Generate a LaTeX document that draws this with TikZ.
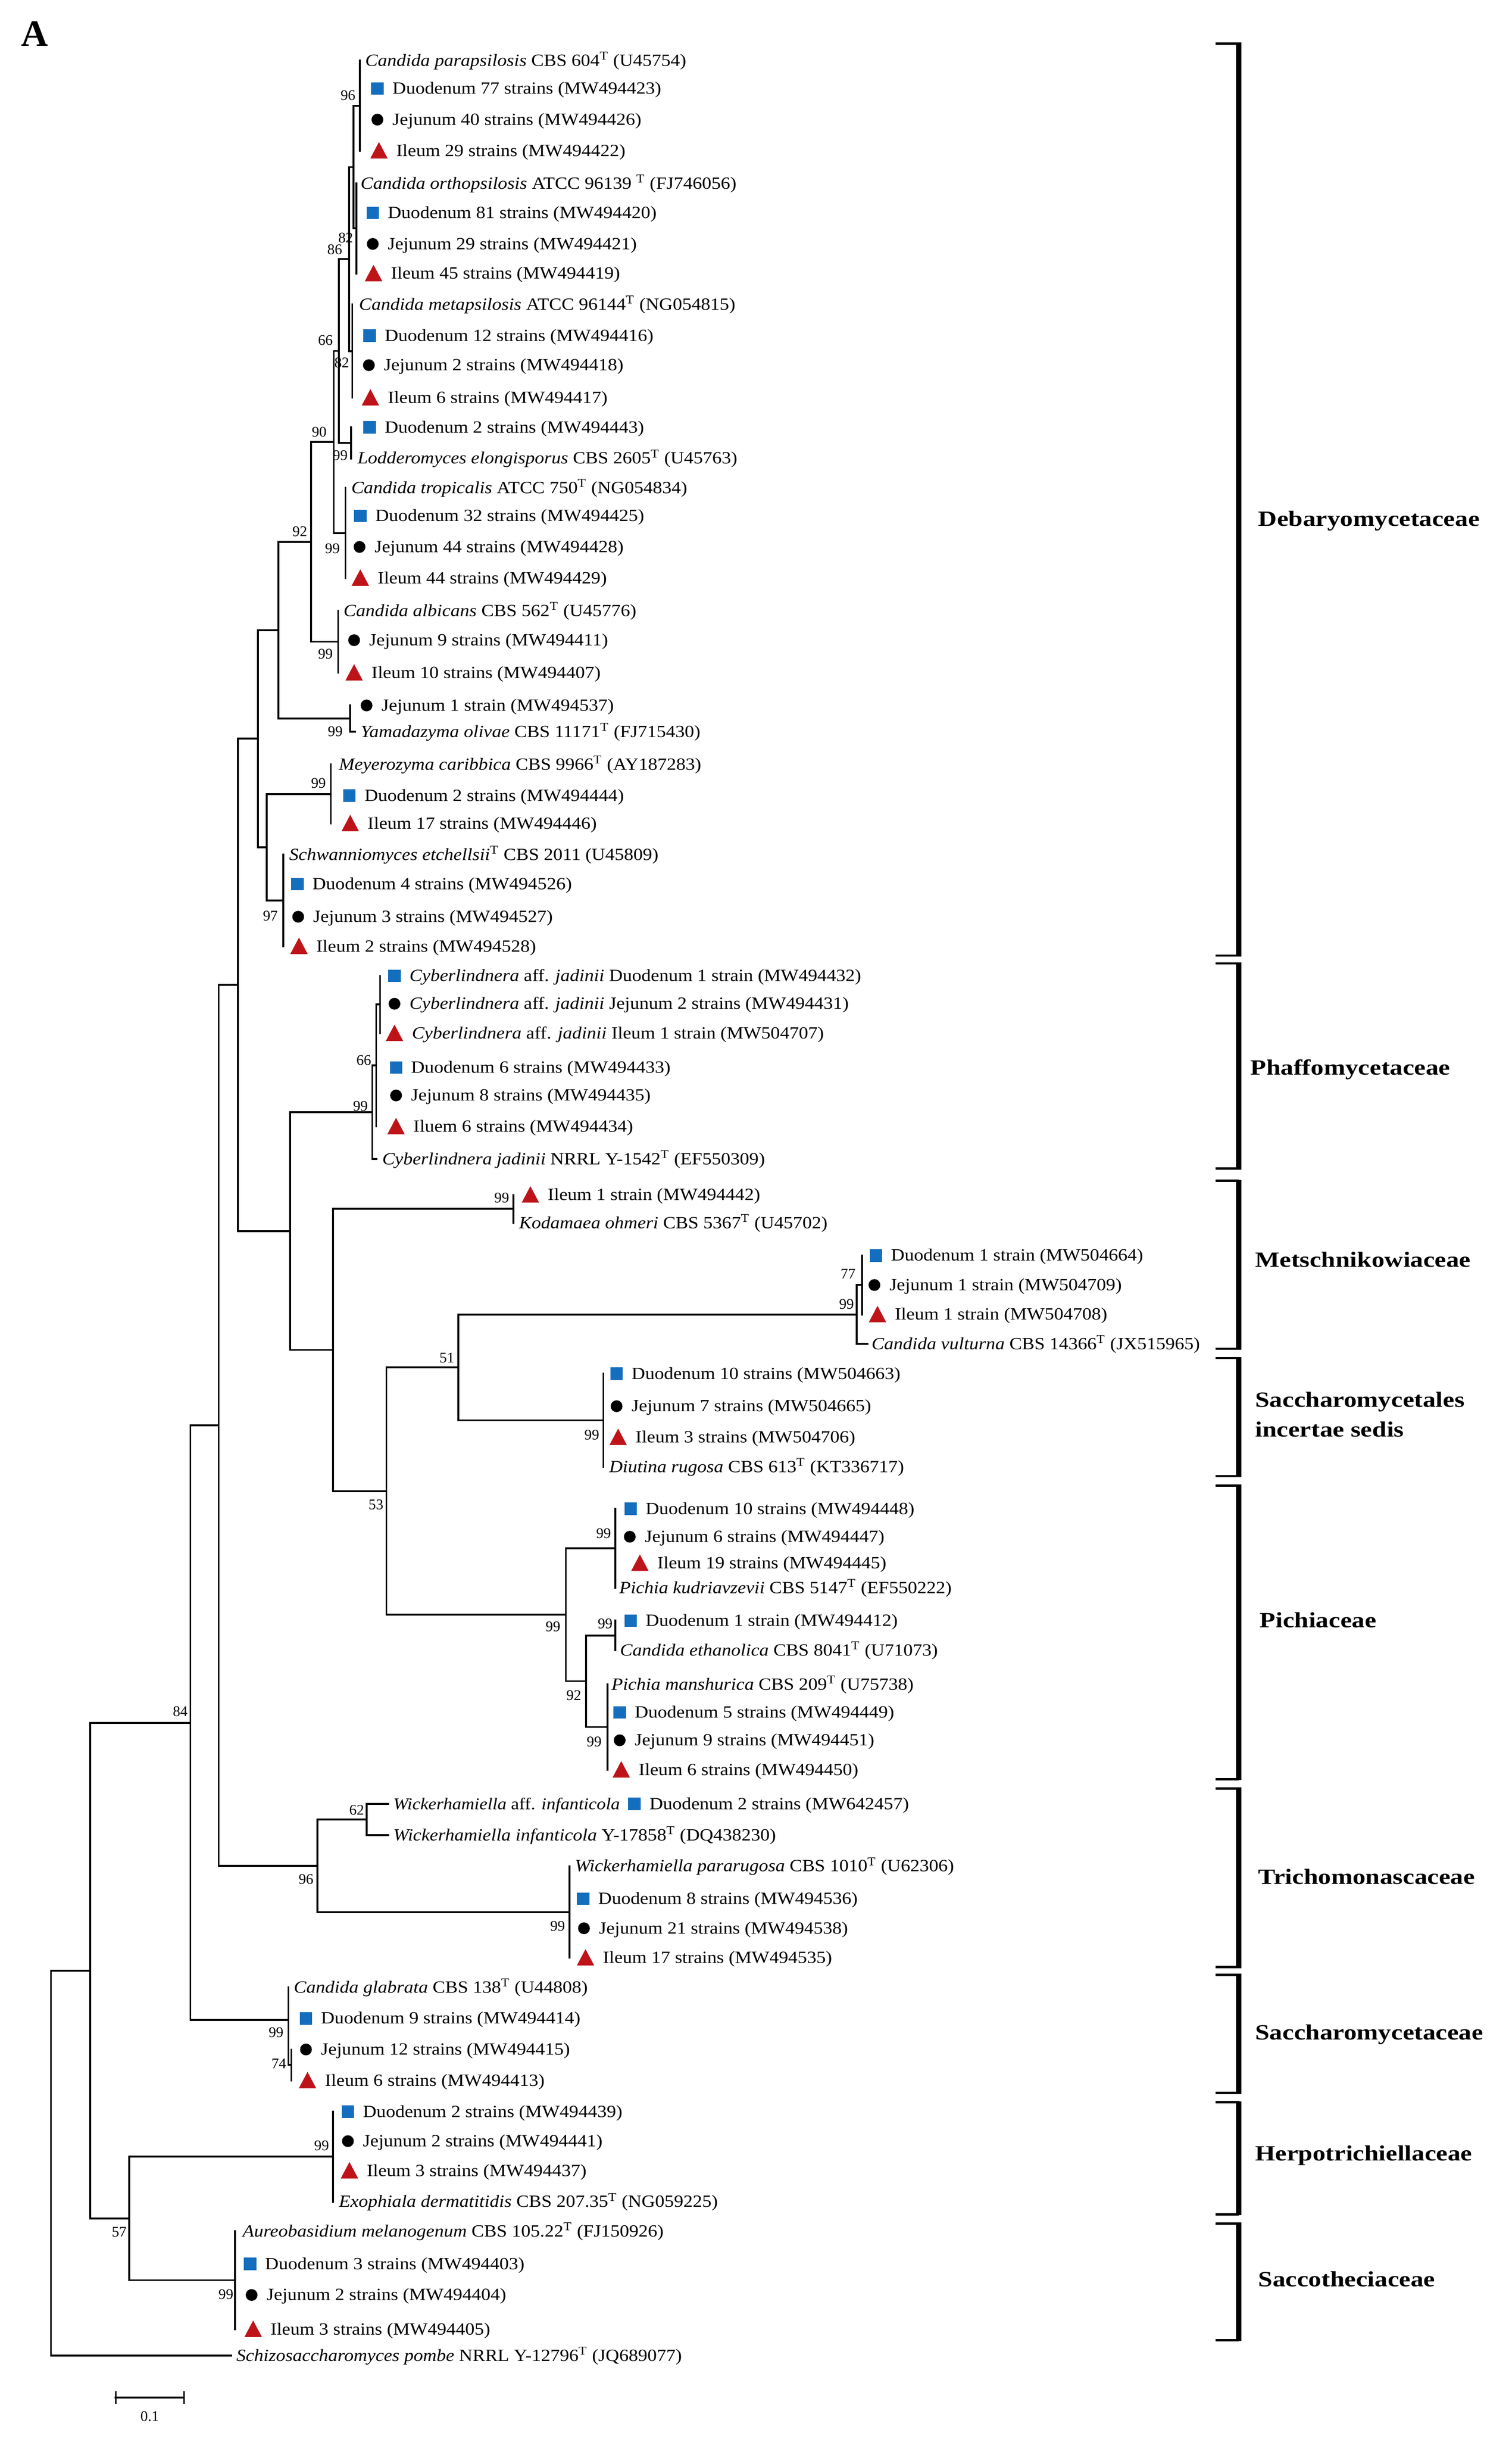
\documentclass[tikz,border=0pt]{standalone}
\usepackage{fontspec}
\setmainfont{Liberation Serif}
\newfontfamily\leaffont{Liberation Serif}[FakeStretch=1.10]
\newfontfamily\famfont{Liberation Serif}[FakeStretch=1.19]
\newfontfamily\plainfont{Liberation Serif}
\definecolor{sqblue}{RGB}{20,110,190}
\definecolor{trired}{RGB}{190,20,25}
\tikzset{
  br/.style={line width=1.2pt, line cap=rect},
  lbl/.style={anchor=base west, inner sep=0pt, font=\leaffont\fontsize{11}{13}\selectfont},
  bs/.style={anchor=east, inner sep=0pt, font=\plainfont\fontsize{9.5}{11}\selectfont},
  fam/.style={anchor=base west, inner sep=0pt, font=\famfont\bfseries\fontsize{14}{17}\selectfont},
  mS/.style={rectangle, fill=sqblue, minimum size=8pt, inner sep=0pt},
  mC/.style={circle, fill=black, minimum size=7.6pt, inner sep=0pt},
}
\newcommand\mytri[2]{\fill[trired] (#1-5.6,#2+5) -- (#1+5.6,#2+5) -- (#1,#2-5.6) -- cycle;}
% id, tip x, y, marker centre x, text
\newcommand\leafS[5]{\coordinate (#1) at (#2,#3); \node[mS] (#1m) at (#4,#3) {}; \node[lbl] (#1l) at (#4+9.5,#3+3.5) {#5};}
\newcommand\leafC[5]{\coordinate (#1) at (#2,#3); \node[mC] (#1m) at (#4,#3) {}; \node[lbl] (#1l) at (#4+9.5,#3+3.5) {#5};}
\newcommand\leafT[5]{\coordinate (#1) at (#2,#3); \mytri{#4}{#3} \node[lbl] (#1l) at (#4+11,#3+3.5) {#5};}
% id, tip x, y, text x, text
\newcommand\leafN[5]{\coordinate (#1) at (#2,#3); \node[lbl] (#1l) at (#4,#3+3.5) {#5};}
\newcommand\kids[2]{\foreach \kid in {#2} {\draw[br] (#1) |- (\kid);}}
\newcommand\brk[2]{\draw[line width=1.5pt] (782.7,#1) -- (797.6,#1); \draw[line width=1.5pt] (782.7,#2) -- (797.6,#2); \draw[line width=3.4pt] (797.6,#1-0.7) -- (797.6,#2+0.7);}
\newcommand\Ts{\textsuperscript{T}}
\begin{document}
\begin{tikzpicture}[x=1pt,y=-1pt]
\useasboundingbox (0,0) rectangle (973.5,1569.7);
\fill[white] (0,0) rectangle (973.5,1569.7);
\node[anchor=base west, inner sep=0pt, font=\plainfont\bfseries\fontsize{24}{28}\selectfont] (A) at (13.5,29.7) {A};

% internal nodes
\coordinate (N96) at (231.8,68);
\coordinate (NO) at (229.6,147);
\coordinate (NPO) at (227.7,107.5);
\coordinate (N86) at (224.9,166.75);
\coordinate (Nmeta) at (226.8,226);
\coordinate (Npair) at (226.1,285);
\coordinate (N66) at (218.3,225.9);
\coordinate (Ntrop) at (222.4,343);
\coordinate (N90) at (214.9,284.4);
\coordinate (Nalb) at (217.7,413);
\coordinate (N92) at (200.4,348.7);
\coordinate (Nyam) at (225.5,462.5);
\coordinate (Nc1) at (179.2,405.6);
\coordinate (Nmey) at (213,511);
\coordinate (Nsch) at (182.5,579.5);
\coordinate (Nc3) at (171.6,545.25);
\coordinate (Nc2) at (166,475.4);
\coordinate (Ncj) at (244.7,646.5);
\coordinate (N66c) at (242.2,685.75);
\coordinate (Nphaf) at (239.7,715.9);
\coordinate (Nkod) at (330.5,778);
\coordinate (N77) at (555,827);
\coordinate (Nmet) at (551.5,846);
\coordinate (Ndiu) at (388.5,914);
\coordinate (N51) at (295.2,880);
\coordinate (Nkud) at (396.1,996.5);
\coordinate (Neth) at (396.1,1052.5);
\coordinate (Nman) at (391.1,1111.5);
\coordinate (N92p) at (377.4,1082);
\coordinate (Npich) at (364.3,1039.25);
\coordinate (N53) at (248.8,959.6);
\coordinate (Nc6) at (214.5,868.8);
\coordinate (Nc5) at (186.7,792.4);
\coordinate (Nc4) at (153.2,633.9);
\coordinate (N62) at (236.2,1171);
\coordinate (Npar) at (366.8,1230.5);
\coordinate (Ntri) at (204.4,1200.75);
\coordinate (Nc7) at (140.8,917.3);
\coordinate (N74) at (187.6,1329);
\coordinate (Ngla) at (185.7,1300);
\coordinate (N84) at (122.6,1108.7);
\coordinate (Nher) at (214.5,1388);
\coordinate (Nsac) at (151.4,1467.5);
\coordinate (N57) at (83.3,1427.75);
\coordinate (Nc8) at (58,1268.2);
\coordinate (Root) at (32.8,1392);

% leaves
\leafN{L1}{231.8}{39}{235}{\textit{Candida parapsilosis} CBS 604\Ts{} (U45754)}
\leafS{L2}{231.8}{57}{243}{Duodenum 77 strains (MW494423)}
\leafC{L3}{231.8}{77}{243}{Jejunum 40 strains (MW494426)}
\leafT{L4}{231.8}{97}{244}{Ileum 29 strains (MW494422)}
\leafN{L5}{229.6}{118}{232}{\textit{Candida orthopsilosis} ATCC 96139 \Ts{} (FJ746056)}
\leafS{L6}{229.6}{137}{240}{Duodenum 81 strains (MW494420)}
\leafC{L7}{229.6}{157}{240}{Jejunum 29 strains (MW494421)}
\leafT{L8}{229.6}{176}{240.5}{Ileum 45 strains (MW494419)}
\leafN{L9}{226.8}{196}{231}{\textit{Candida metapsilosis} ATCC 96144\Ts{} (NG054815)}
\leafS{L10}{226.8}{216}{238}{Duodenum 12 strains (MW494416)}
\leafC{L11}{226.8}{235}{237.5}{Jejunum 2 strains (MW494418)}
\leafT{L12}{226.8}{256}{238.5}{Ileum 6 strains (MW494417)}
\leafS{L13}{226.1}{275}{238}{Duodenum 2 strains (MW494443)}
\leafN{L14}{226.1}{295}{230}{\textit{Lodderomyces elongisporus} CBS 2605\Ts{} (U45763)}
\leafN{L15}{222.4}{314}{226}{\textit{Candida tropicalis} ATCC 750\Ts{} (NG054834)}
\leafS{L16}{222.4}{332}{232}{Duodenum 32 strains (MW494425)}
\leafC{L17}{222.4}{352}{231.5}{Jejunum 44 strains (MW494428)}
\leafT{L18}{222.4}{372}{232}{Ileum 44 strains (MW494429)}
\leafN{L19}{217.7}{393}{221}{\textit{Candida albicans} CBS 562\Ts{} (U45776)}
\leafC{L20}{217.7}{412}{228}{Jejunum 9 strains (MW494411)}
\leafT{L21}{217.7}{433}{228}{Ileum 10 strains (MW494407)}
\leafC{L22}{225.5}{454}{236}{Jejunum 1 strain (MW494537)}
\leafN{L23}{228.5}{471}{232}{\textit{Yamadazyma olivae} CBS 11171\Ts{} (FJ715430)}
\leafN{L24}{213}{492}{218}{\textit{Meyerozyma caribbica} CBS 9966\Ts{} (AY187283)}
\leafS{L25}{213}{512}{225}{Duodenum 2 strains (MW494444)}
\leafT{L26}{213}{530}{225.5}{Ileum 17 strains (MW494446)}
\leafN{L27}{182.5}{550}{186}{\textit{Schwanniomyces etchellsii}\Ts{} CBS 2011 (U45809)}
\leafS{L28}{182.5}{569}{191.5}{Duodenum 4 strains (MW494526)}
\leafC{L29}{182.5}{590}{192}{Jejunum 3 strains (MW494527)}
\leafT{L30}{182.5}{609}{192.5}{Ileum 2 strains (MW494528)}
\leafS{L31}{244.7}{628}{254}{\textit{Cyberlindnera} aff. \textit{jadinii} Duodenum 1 strain (MW494432)}
\leafC{L32}{244.7}{646}{254}{\textit{Cyberlindnera} aff. \textit{jadinii} Jejunum 2 strains (MW494431)}
\leafT{L33}{244.7}{665}{254}{\textit{Cyberlindnera} aff. \textit{jadinii} Ileum 1 strain (MW504707)}
\leafS{L34}{242.2}{687}{255}{Duodenum 6 strains (MW494433)}
\leafC{L35}{242.2}{705}{255}{Jejunum 8 strains (MW494435)}
\leafT{L36}{242.2}{725}{255}{Iluem 6 strains (MW494434)}
\leafN{L37}{242.5}{746}{246}{\textit{Cyberlindnera jadinii} NRRL Y-1542\Ts{} (EF550309)}
\leafT{L38}{330.5}{769}{341.5}{Ileum 1 strain (MW494442)}
\leafN{L39}{330.5}{787}{334}{\textit{Kodamaea ohmeri} CBS 5367\Ts{} (U45702)}
\leafS{L40}{555}{808}{564}{Duodenum 1 strain (MW504664)}
\leafC{L41}{555}{827}{563}{Jejunum 1 strain (MW504709)}
\leafT{L42}{555}{846}{565}{Ileum 1 strain (MW504708)}
\leafN{L43}{558.5}{865}{561}{\textit{Candida vulturna} CBS 14366\Ts{} (JX515965)}
\leafS{L44}{388.5}{884}{397}{Duodenum 10 strains (MW504663)}
\leafC{L45}{388.5}{905}{397}{Jejunum 7 strains (MW504665)}
\leafT{L46}{388.5}{925}{398}{Ileum 3 strains (MW504706)}
\leafN{L47}{388.5}{944}{392}{\textit{Diutina rugosa} CBS 613\Ts{} (KT336717)}
\leafS{L48}{396.1}{971}{406}{Duodenum 10 strains (MW494448)}
\leafC{L49}{396.1}{989}{405.5}{Jejunum 6 strains (MW494447)}
\leafT{L50}{396.1}{1006}{412}{Ileum 19 strains (MW494445)}
\leafN{L51}{396.1}{1022}{398.5}{\textit{Pichia kudriavzevii} CBS 5147\Ts{} (EF550222)}
\leafS{L52}{396.1}{1043}{406}{Duodenum 1 strain (MW494412)}
\leafN{L53}{396.1}{1062}{399}{\textit{Candida ethanolica} CBS 8041\Ts{} (U71073)}
\leafN{L54}{391.1}{1084}{393.5}{\textit{Pichia manshurica} CBS 209\Ts{} (U75738)}
\leafS{L55}{391.1}{1102}{399}{Duodenum 5 strains (MW494449)}
\leafC{L56}{391.1}{1120}{399}{Jejunum 9 strains (MW494451)}
\leafT{L57}{391.1}{1139}{400}{Ileum 6 strains (MW494450)}
\leafN{L58}{250}{1161}{253}{\fontsize{10.6}{13}\selectfont\textit{Wickerhamiella} aff. \textit{infanticola}}
\node[mS] (L58m) at (408.5,1161) {};
\node[lbl] (L58d) at (418,1164.5) {Duodenum 2 strains (MW642457)};
\leafN{L59}{250}{1181}{253}{\textit{Wickerhamiella infanticola} Y-17858\Ts{} (DQ438230)}
\leafN{L60}{366.8}{1201}{370}{\textit{Wickerhamiella pararugosa} CBS 1010\Ts{} (U62306)}
\leafS{L61}{366.8}{1222}{375.5}{Duodenum 8 strains (MW494536)}
\leafC{L62}{366.8}{1241}{376}{Jejunum 21 strains (MW494538)}
\leafT{L63}{366.8}{1260}{377}{Ileum 17 strains (MW494535)}
\leafN{L64}{185.7}{1279}{189}{\textit{Candida glabrata} CBS 138\Ts{} (U44808)}
\leafS{L65}{185.7}{1299}{197}{Duodenum 9 strains (MW494414)}
\leafC{L66}{187.6}{1319}{197}{Jejunum 12 strains (MW494415)}
\leafT{L67}{187.6}{1339}{198}{Ileum 6 strains (MW494413)}
\leafS{L68}{214.5}{1359}{224}{Duodenum 2 strains (MW494439)}
\leafC{L69}{214.5}{1378}{224}{Jejunum 2 strains (MW494441)}
\leafT{L70}{214.5}{1397}{225}{Ileum 3 strains (MW494437)}
\leafN{L71}{214.5}{1417}{218}{\textit{Exophiala dermatitidis} CBS 207.35\Ts{} (NG059225)}
\leafN{L72}{151.4}{1436}{156}{\textit{Aureobasidium melanogenum} CBS 105.22\Ts{} (FJ150926)}
\leafS{L73}{151.4}{1457}{161}{Duodenum 3 strains (MW494403)}
\leafC{L74}{151.4}{1477}{162}{Jejunum 2 strains (MW494404)}
\leafT{L75}{151.4}{1499}{163}{Ileum 3 strains (MW494405)}
\leafN{L76}{148.8}{1516}{152}{\textit{Schizosaccharomyces pombe} NRRL Y-12796\Ts{} (JQ689077)}

% branches
\kids{N96}{L1,L2,L3,L4}
\kids{NO}{L5,L6,L7,L8}
\kids{NPO}{N96,NO}
\kids{Nmeta}{L9,L10,L11,L12}
\kids{N86}{NPO,Nmeta}
\kids{Npair}{L13,L14}
\kids{N66}{N86,Npair}
\kids{Ntrop}{L15,L16,L17,L18}
\kids{N90}{N66,Ntrop}
\kids{Nalb}{L19,L20,L21}
\kids{N92}{N90,Nalb}
\kids{Nyam}{L22,L23}
\kids{Nc1}{N92,Nyam}
\kids{Nmey}{L24,L25,L26}
\kids{Nsch}{L27,L28,L29,L30}
\kids{Nc3}{Nmey,Nsch}
\kids{Nc2}{Nc1,Nc3}
\kids{Ncj}{L31,L32,L33}
\kids{N66c}{Ncj,L34,L35,L36}
\kids{Nphaf}{N66c,L37}
\kids{Nkod}{L38,L39}
\kids{N77}{L40,L41,L42}
\kids{Nmet}{N77,L43}
\kids{Ndiu}{L44,L45,L46,L47}
\kids{N51}{Nmet,Ndiu}
\kids{Nkud}{L48,L49,L50,L51}
\kids{Neth}{L52,L53}
\kids{Nman}{L54,L55,L56,L57}
\kids{N92p}{Neth,Nman}
\kids{Npich}{Nkud,N92p}
\kids{N53}{N51,Npich}
\kids{Nc6}{Nkod,N53}
\kids{Nc5}{Nphaf,Nc6}
\kids{Nc4}{Nc2,Nc5}
\kids{N62}{L58,L59}
\kids{Npar}{L60,L61,L62,L63}
\kids{Ntri}{N62,Npar}
\kids{Nc7}{Nc4,Ntri}
\kids{N74}{L66,L67}
\kids{Ngla}{L64,L65,N74}
\kids{N84}{Nc7,Ngla}
\kids{Nher}{L68,L69,L70,L71}
\kids{Nsac}{L72,L73,L74,L75}
\kids{N57}{Nher,Nsac}
\kids{Nc8}{N84,N57}
\kids{Root}{Nc8,L76}

% bootstrap values
\node[bs] (b01) at (229,61.4) {96};
\node[bs] (b02) at (227.5,153.2) {82};
\node[bs] (b03) at (220.5,160.6) {86};
\node[bs] (b04) at (214.5,219) {66};
\node[bs] (b05) at (225,233.5) {82};
\node[bs] (b06) at (210.5,278) {90};
\node[bs] (b07) at (224,293) {99};
\node[bs] (b08) at (198,342) {92};
\node[bs] (b09) at (219,353) {99};
\node[bs] (b10) at (214.5,421) {99};
\node[bs] (b11) at (220.8,470.7) {99};
\node[bs] (b12) at (210,504) {99};
\node[bs] (b13) at (179,589.5) {97};
\node[bs] (b14) at (239.2,682.5) {66};
\node[bs] (b15) at (237,712) {99};
\node[bs] (b16) at (328,771) {99};
\node[bs] (b17) at (551,820) {77};
\node[bs] (b18) at (550,839.5) {99};
\node[bs] (b19) at (292.7,874) {51};
\node[bs] (b20) at (386,923.5) {99};
\node[bs] (b21) at (247,968.5) {53};
\node[bs] (b22) at (393.6,987) {99};
\node[bs] (b23) at (361,1047) {99};
\node[bs] (b24) at (394.6,1045) {99};
\node[bs] (b25) at (374.4,1091) {92};
\node[bs] (b26) at (387.5,1121) {99};
\node[bs] (b27) at (121,1101.5) {84};
\node[bs] (b28) at (234.6,1165) {62};
\node[bs] (b29) at (202,1209.5) {96};
\node[bs] (b30) at (364,1239.5) {99};
\node[bs] (b31) at (182.7,1308) {99};
\node[bs] (b32) at (184.5,1328) {74};
\node[bs] (b33) at (212,1381) {99};
\node[bs] (b34) at (81.7,1436.5) {57};
\node[bs] (b35) at (150.4,1476.5) {99};

% scale bar
\coordinate (sb1) at (74.5,1543);
\coordinate (sb2) at (118.4,1543);
\draw[br] (sb1) -- (sb2);
\draw[line width=1pt] (74.5,1539) -- (74.5,1547);
\draw[line width=1pt] (118.4,1539) -- (118.4,1547);
\node[bs, anchor=center] (sbl) at (96.4,1555) {0.1};

% family brackets
\brk{28}{615}
\brk{620}{752}
\brk{760}{868}
\brk{874}{950}
\brk{956}{1145}
\brk{1151}{1266}
\brk{1271}{1347}
\brk{1353}{1425}
\brk{1431}{1506}
\node[fam] (f1) at (810,338.6) {Debaryomycetaceae};
\node[fam] (f2) at (805,691.6) {Phaffomycetaceae};
\node[fam] (f3) at (808,815.6) {Metschnikowiaceae};
\node[fam] (f4a) at (808,905.6) {Saccharomycetales};
\node[fam] (f4b) at (808,924.6) {incertae sedis};
\node[fam] (f5) at (811,1047.6) {Pichiaceae};
\node[fam] (f6) at (810,1212.6) {Trichomonascaceae};
\node[fam] (f7) at (808,1312.6) {Saccharomycetaceae};
\node[fam] (f8) at (808,1390.6) {Herpotrichiellaceae};
\node[fam] (f9) at (810,1471.6) {Saccotheciaceae};
\end{tikzpicture}
\end{document}
